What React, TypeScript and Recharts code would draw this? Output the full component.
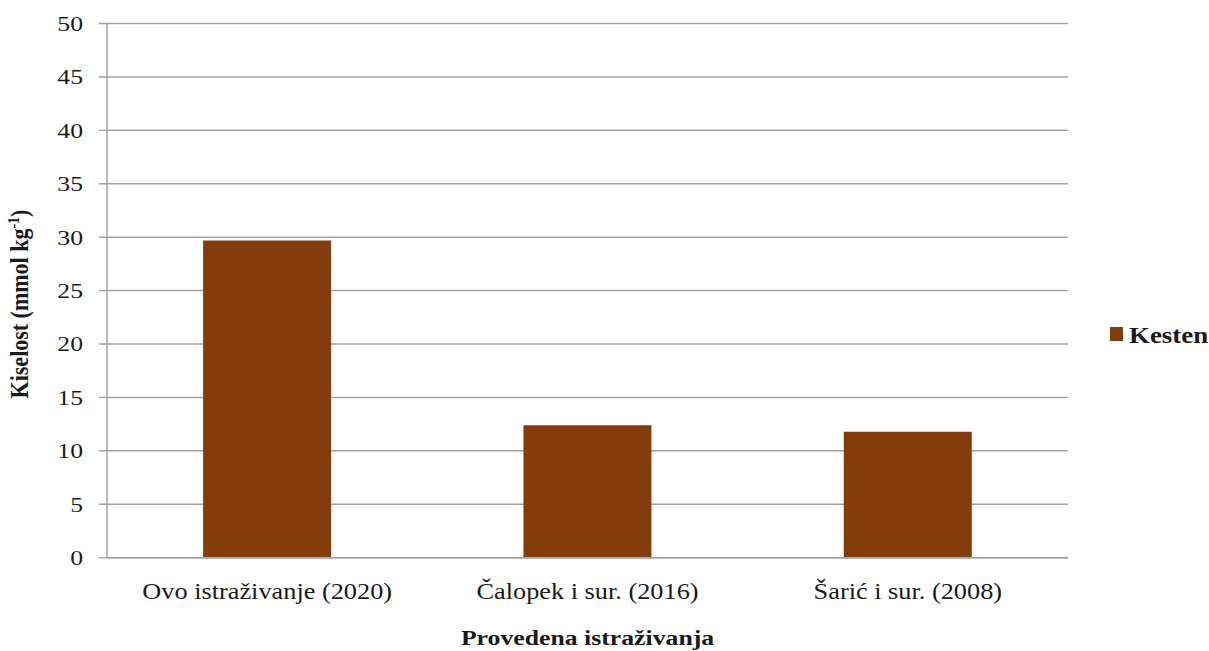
import React from "react";
import { BarChart, Bar, XAxis, YAxis, CartesianGrid, Legend } from "recharts";

const categories = ["Ovo istraživanje (2020)", "Čalopek i sur. (2016)", "Šarić i sur. (2008)"];
const kestenValues = [29.7, 12.4, 11.8];
const yTicks = [0, 5, 10, 15, 20, 25, 30, 35, 40, 45, 50];
const seriesName = "Kesten";
const xTitle = "Provedena istraživanja";

const data = categories.map((c, i) => ({ name: c, kesten: kestenValues[i] }));

const FONT = "'Liberation Serif', 'Times New Roman', serif";
const SX = 1.17;
const GRID = "#a3a3a3";
const BROWN = "#843c0c";

const YTick = (props: any) => {
  const { x, y, payload } = props;
  return (
    <text
      transform={`translate(${x - 14},${y}) scale(${SX},1)`}
      textAnchor="end"
      dominantBaseline="central"
      fontFamily={FONT}
      fontSize={22}
      fill="#1a1a1a"
    >
      {payload.value}
    </text>
  );
};

const XTick = (props: any) => {
  const { x, payload } = props;
  return (
    <text
      transform={`translate(${x},${599}) scale(${SX},1)`}
      textAnchor="middle"
      fontFamily={FONT}
      fontSize={22.5}
      fill="#1a1a1a"
    >
      {payload.value}
    </text>
  );
};

const XTitle = (props: any) => {
  const { viewBox } = props;
  const cx = viewBox.x + viewBox.width / 2;
  return (
    <text
      transform={`translate(${cx},${645}) scale(${SX},1)`}
      textAnchor="middle"
      fontFamily={FONT}
      fontSize={22}
      fontWeight="bold"
      fill="#1a1a1a"
    >
      {xTitle}
    </text>
  );
};

const YTitle = () => {
  return (
    <text
      transform={`translate(28,304) rotate(-90) scale(1,${SX})`}
      textAnchor="middle"
      fontFamily={FONT}
      fontSize={22}
      fontWeight="bold"
      fill="#1a1a1a"
    >
      Kiselost (mmol kg
      <tspan dy={-8} fontSize={14}>-1</tspan>
      <tspan dy={8}>)</tspan>
    </text>
  );
};

const LegendContent = () => (
  <svg width={110} height={30}>
    <rect x={5} y={6} width={13} height={14} fill={BROWN} />
    <text
      transform={`translate(24,21.5) scale(${SX},1)`}
      fontFamily={FONT}
      fontSize={23}
      fontWeight="bold"
      fill="#1a1a1a"
    >
      {seriesName}
    </text>
  </svg>
);

export default function App() {
  return (
    <div style={{ position: "absolute", left: 0, top: 0, width: 1209, height: 651, background: "#fff" }}>
      <BarChart
        width={1209}
        height={651}
        data={data}
        margin={{ top: 23.5, right: 141, bottom: 0, left: 0 }}
        barCategoryGap="30%"
      >
        <CartesianGrid vertical={false} stroke={GRID} strokeWidth={1.5} />
        <XAxis
          dataKey="name"
          tickLine={false}
          axisLine={{ stroke: GRID, strokeWidth: 1.5 }}
          tick={<XTick />}
          interval={0}
          height={93.3}
          label={<XTitle />}
        />
        <YAxis
          domain={[0, 50]}
          ticks={yTicks}
          width={107}
          tickSize={8}
          tickLine={{ stroke: GRID, strokeWidth: 1.5 }}
          axisLine={{ stroke: GRID, strokeWidth: 1.5 }}
          tick={<YTick />}
          interval={0}
          label={<YTitle />}
        />
        <Legend
          layout="horizontal"
          align="center"
          verticalAlign="middle"
          wrapperStyle={{ left: 1105, top: 321, width: 110, height: 30 }}
          content={<LegendContent />}
        />
        <Bar dataKey="kesten" name={seriesName} fill={BROWN} isAnimationActive={false} />
      </BarChart>
    </div>
  );
}
